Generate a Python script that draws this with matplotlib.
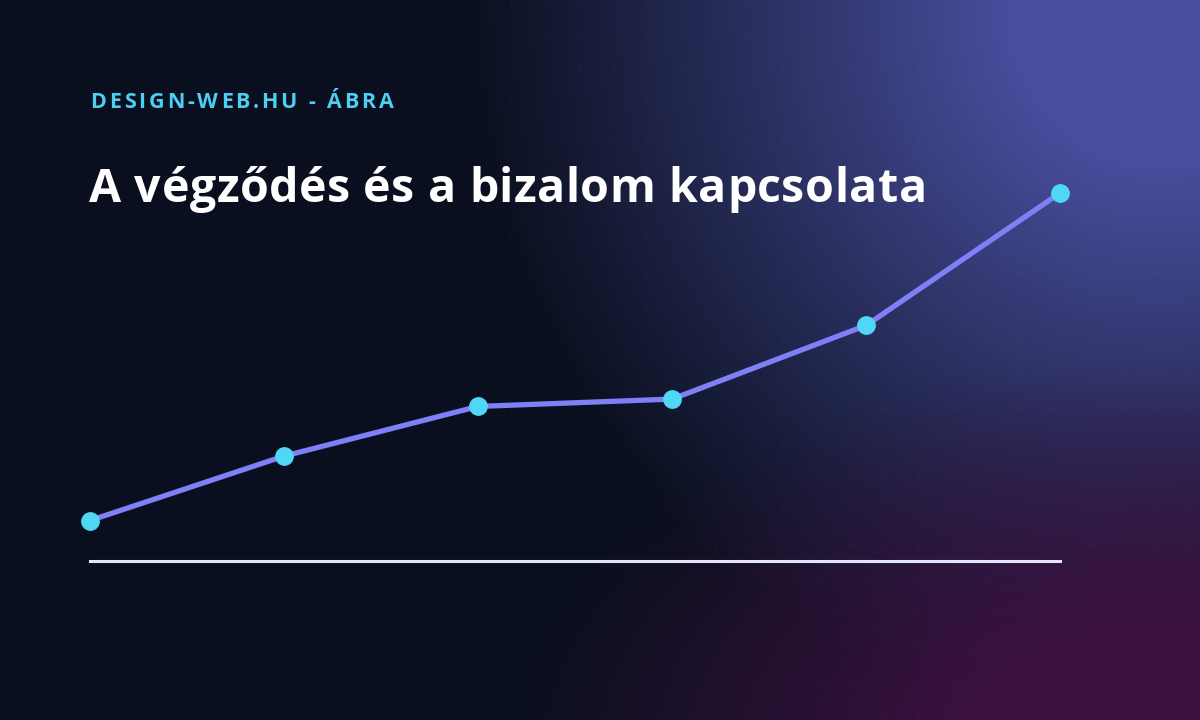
import numpy as np
import matplotlib.pyplot as plt

# ==========================================================
# DATA
# ==========================================================

steps = [0, 1, 2, 3, 4, 5]
trust = [11, 28.5, 42, 44, 64, 100]

kicker = "DESIGN-WEB.HU - ÁBRA"
title = "A végződés és a bizalom kapcsolata"

# ==========================================================
# FIGURE + BACKGROUND
# ==========================================================

W, H = 1200, 720
fig = plt.figure(figsize=(12, 7.2), dpi=100)

bg = fig.add_axes([0, 0, 1, 1])
bg.set_axis_off()

yy, xx = np.mgrid[0:H, 0:W]
base = np.array([0.039, 0.059, 0.118])
blue = np.array([0.290, 0.310, 0.625])
plum = np.array([0.235, 0.070, 0.250])

d_blue = np.hypot((xx - 1160) / 700, (yy - 10) / 720)
w_blue = np.clip(1 - d_blue, 0, 1)
w_blue = np.clip(w_blue * 1.25, 0, 1) ** 1.05
d_plum = np.hypot((xx - 1200) / 700, (yy - 750) / 400)
w_plum = np.clip(1 - d_plum, 0, 1)
w_plum = np.clip(w_plum * 1.5, 0, 1) ** 1.1

img = base[None, None, :] * np.ones((H, W, 1))
img = img * (1 - w_blue[..., None]) + blue * w_blue[..., None]
img = img * (1 - w_plum[..., None]) + plum * w_plum[..., None]
bg.imshow(img, extent=[0, W, H, 0], aspect="auto")

# faint dot grid
gx, gy = np.meshgrid(np.arange(1, W, 34), np.arange(1, H, 34))
bg.scatter(gx.ravel(), gy.ravel(), s=1.2, color="white", alpha=0.07, lw=0)
bg.set_xlim(0, W)
bg.set_ylim(H, 0)

# ==========================================================
# CHART
# ==========================================================

ax = fig.add_axes([90 / W, 1 - 561 / H, 970 / W, (561 - 193) / H])
ax.patch.set_alpha(0)
ax.set_xlim(0, 5)
ax.set_ylim(0, 100)
for s in ax.spines.values():
    s.set_visible(False)
ax.set_xticks([])
ax.set_yticks([])

ax.axhline(0, color="#e4e4fa", lw=2.2, clip_on=False)

ax.plot(steps, trust, color="#7f7ff7", lw=3.8, clip_on=False,
        solid_capstyle="round", zorder=3)
ax.plot(steps, trust, "o", color="#4fd8f5", markersize=12.5,
        clip_on=False, zorder=4)

# ==========================================================
# TEXT (drawn char by char to get letter spacing)
# ==========================================================

renderer = fig.canvas.get_renderer()
fam = ["Open Sans", "DejaVu Sans"]


def spaced_text(s, x0, baseline, size, color, spacing):
    for i, ch in enumerate(s):
        probe = fig.text(0, 0, s[:i] + "|", fontsize=size,
                         fontweight="bold", family=fam)
        bar = fig.text(0, 0, "|", fontsize=size, fontweight="bold", family=fam)
        w = (probe.get_window_extent(renderer).width
             - bar.get_window_extent(renderer).width)
        probe.remove()
        bar.remove()
        fig.text((x0 + w + i * spacing) / W, 1 - baseline / H, ch,
                 color=color, fontsize=size, fontweight="bold", family=fam,
                 va="baseline", ha="left")


spaced_text(kicker, 90, 107.5, 15.5, "#4ccff0", 2.9)
spaced_text(title, 89, 202, 33.5, "white", 0.55)

fig.savefig("out.png", dpi=100)
